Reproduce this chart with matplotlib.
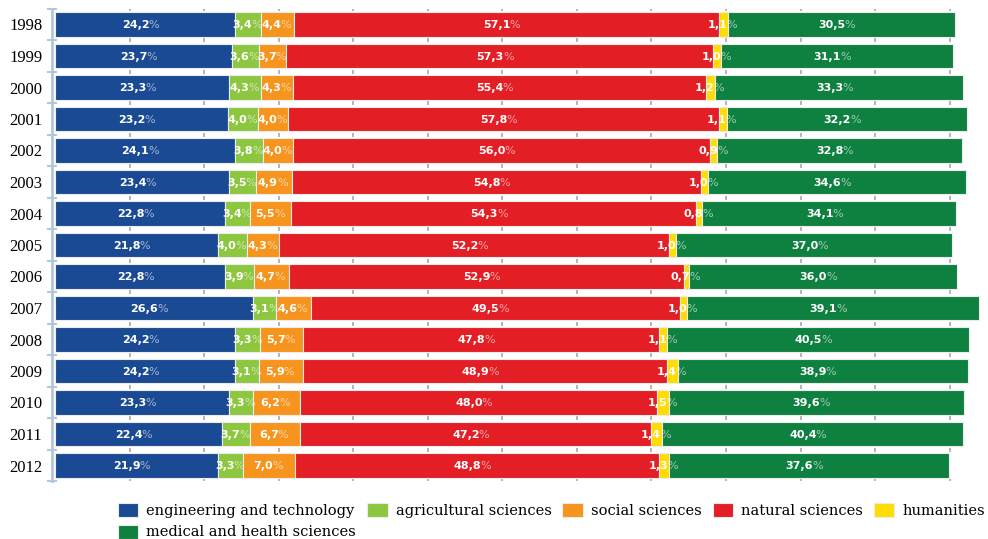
import numpy as np
import matplotlib.pyplot as plt

# Share of research output by field, 1998-2012 (values as printed on the chart)
years = ['1998', '1999', '2000', '2001', '2002', '2003', '2004', '2005',
         '2006', '2007', '2008', '2009', '2010', '2011', '2012']
engineering = [24.2, 23.7, 23.3, 23.2, 24.1, 23.4, 22.8, 21.8, 22.8, 26.6, 24.2, 24.2, 23.3, 22.4, 21.9]
agricultural = [3.4, 3.6, 4.3, 4.0, 3.8, 3.5, 3.4, 4.0, 3.9, 3.1, 3.3, 3.1, 3.3, 3.7, 3.3]
social = [4.4, 3.7, 4.3, 4.0, 4.0, 4.9, 5.5, 4.3, 4.7, 4.6, 5.7, 5.9, 6.2, 6.7, 7.0]
natural = [57.1, 57.3, 55.4, 57.8, 56.0, 54.8, 54.3, 52.2, 52.9, 49.5, 47.8, 48.9, 48.0, 47.2, 48.8]
humanities = [1.1, 1.0, 1.2, 1.1, 0.9, 1.0, 0.8, 1.0, 0.7, 1.0, 1.1, 1.4, 1.5, 1.4, 1.3]
medical = [30.5, 31.1, 33.3, 32.2, 32.8, 34.6, 34.1, 37.0, 36.0, 39.1, 40.5, 38.9, 39.6, 40.4, 37.6]

names = ['engineering and technology', 'agricultural sciences', 'social sciences',
         'natural sciences', 'humanities', 'medical and health sciences']
colors = ['#1a4a93', '#8dc63f', '#f7941d', '#e31e24', '#ffdd00', '#0e8040']
series = [engineering, agricultural, social, natural, humanities, medical]

fig = plt.figure(figsize=(9.88, 5.39), dpi=100)
ax = fig.add_axes([52 / 988, 1 - 481.25 / 539, 935 / 988, 472.5 / 539])

y = np.arange(len(years))
left = np.zeros(len(years))
handles = []
for vals, name, col in zip(series, names, colors):
    vals = np.array(vals)
    b = ax.barh(y, vals, left=left, height=0.79, color=col,
                edgecolor='#ececec', linewidth=0.8, label=name)
    handles.append(b)
    for yi, l, v in zip(y, left, vals):
        xc = l + v / 2
        num = f'{v:.1f}'.replace('.', ',')
        ax.annotate(num, (xc, yi), xytext=(3, -0.5), textcoords='offset points',
                    ha='right', va='center', color='white', fontweight='bold',
                    fontsize=8)
        ax.annotate('%', (xc, yi), xytext=(2.3, -0.5), textcoords='offset points',
                    ha='left', va='center', color='white', alpha=0.6,
                    fontsize=8)
    left += vals

ax.set_xlim(-0.4, 125.0)
ax.set_ylim(len(years) - 0.5, -0.5)

# little grey tick marks in the gaps between rows
bounds = np.arange(-0.5, len(years), 1.0)
for bnd in bounds:
    ax.vlines(np.arange(10, 121, 10), bnd - 0.06, bnd + 0.06,
              color='#a8a8a8', lw=1.2, zorder=0)

ax.set_xticks([])
ax.set_yticks(y)
ax.set_yticklabels(years, fontfamily='Liberation Serif', fontsize=12)
ax.set_yticks(bounds, minor=True)
ax.tick_params(axis='y', which='major', length=0, pad=7)
ax.tick_params(axis='y', which='minor', direction='inout', length=7,
               width=1.5, color='#b4c6dc')
for s in ('top', 'right', 'bottom'):
    ax.spines[s].set_visible(False)
ax.spines['left'].set_color('#b4c6dc')
ax.spines['left'].set_linewidth(2)

# legend: order so that the last item wraps under the first
order = [0, 5, 1, 2, 3, 4]
leg = fig.legend([handles[i] for i in order], [names[i] for i in order],
                 loc='upper left', bbox_to_anchor=(118 / 988, 1 - 503 / 539),
                 ncol=5, frameon=False, borderpad=0, borderaxespad=0,
                 handlelength=1.4, handleheight=1.1, handletextpad=0.55,
                 columnspacing=0.75, labelspacing=0.45,
                 prop={'family': 'DejaVu Serif', 'size': 10.5})

plt.savefig('out.png', dpi=100)
